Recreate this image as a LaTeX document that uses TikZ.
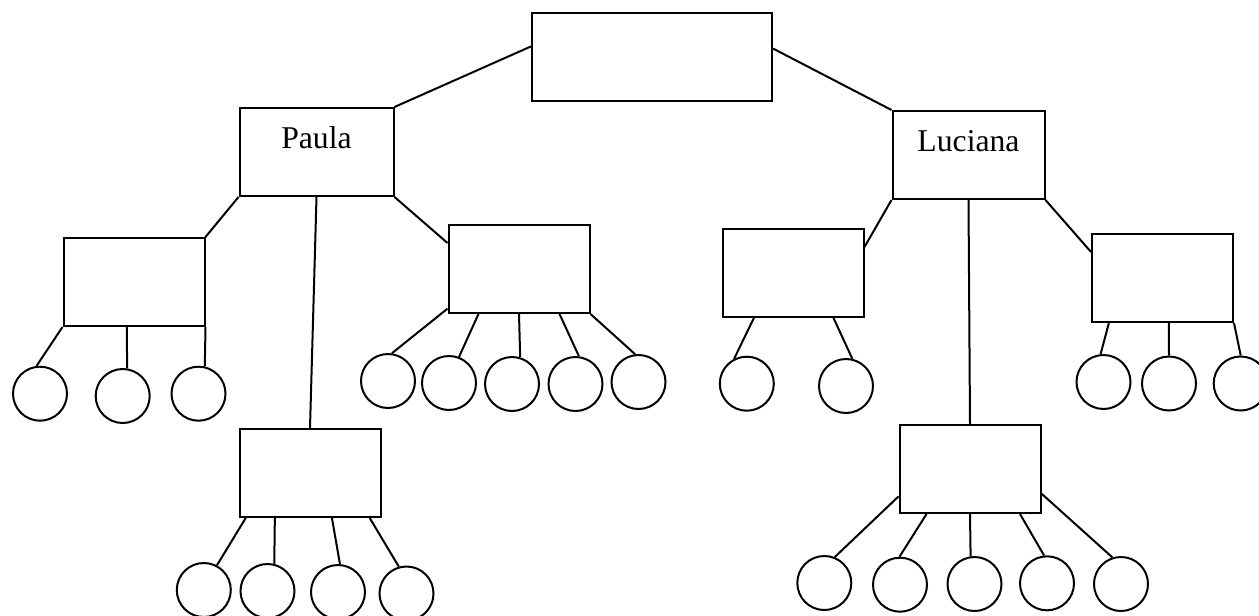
\documentclass[tikz,border=0pt]{standalone}
\usepackage{fontspec}
\setmainfont{Liberation Serif}
\usepackage{tikz}
\tikzset{box/.style={draw, rectangle, minimum width=141pt, minimum height=88pt, inner sep=0pt},
  leaf/.style={draw, circle, minimum size=54pt, inner sep=0pt}}

\begin{document}
\begin{tikzpicture}[x=1pt, y=-1pt, line width=2pt, font=\fontsize{31.7}{38}\selectfont]
      \useasboundingbox (0,0) rectangle (1259,616);
      \node[box, minimum width=240pt] (R) at (652,57) {};
      \node[box, minimum width=154pt, label={[yshift=14pt]center:Paula}] (P) at (316.5,152) {};
      \node[box, minimum width=152pt, label={[yshift=14pt]center:Luciana}] (L) at (968.5,155) {};
      \node[box] (PL) at (134,282) {};
      \node[box] (PM) at (310,473) {};
      \node[box] (PR) at (519,269) {};
      \node[box] (LL) at (793,273) {};
      \node[box] (LM) at (970,469) {};
      \node[box] (LR) at (1162.5,278) {};

      \node[leaf] (PL1) at (40,393.7) {};
      \node[leaf] (PL2) at (122.7,396) {};
      \node[leaf] (PL3) at (198.5,393.7) {};
      \node[leaf] (PR1) at (388,381) {};
      \node[leaf] (PR2) at (449,383) {};
      \node[leaf] (PR3) at (512,384) {};
      \node[leaf] (PR4) at (575.5,384) {};
      \node[leaf] (PR5) at (638.5,382) {};
      \node[leaf] (PM1) at (203.8,590) {};
      \node[leaf] (PM2) at (267.5,591) {};
      \node[leaf] (PM3) at (338,592) {};
      \node[leaf] (PM4) at (406.5,593.5) {};
      \node[leaf] (LL1) at (746.8,383.7) {};
      \node[leaf] (LL2) at (846,386) {};
      \node[leaf] (LR1) at (1103.5,382) {};
      \node[leaf] (LR2) at (1169,383.5) {};
      \node[leaf] (LR3) at (1240.7,383.5) {};
      \node[leaf] (LM1) at (824.3,583) {};
      \node[leaf] (LM2) at (900,584.7) {};
      \node[leaf] (LM3) at (974.5,584) {};
      \node[leaf] (LM4) at (1047,583.3) {};
      \node[leaf] (LM5) at (1121,584) {};

      \draw (R.175) -- (P.north east);
      \draw (R.4) -- (L.north west);
      \draw (P.south west) -- (PL.north east);
      \draw (P.south) -- (PM.north);
      \draw (P.south east) -- (PR.160);
      \draw (L.south west) -- (LL.20);
      \draw (L.south) -- (LM.north);
      \draw (L.south east) -- (LR.160);

      \draw (PL.south west) -- (PL1.97);
      \draw (PL.261) -- (PL2.81);
      \draw (PL.south east) -- (PL3.77);
      \draw (PR.209) -- (PR1.82);
      \draw (PR.228) -- (PR2.69);
      \draw (PR.south) -- (PR3.73);
      \draw (PR.312) -- (PR4.83);
      \draw (PR.south east) -- (PR5.97);
      \draw (PM.215) -- (PM1.62);
      \draw (PM.232) -- (PM2.76);
      \draw (PM.296) -- (PM3.86);
      \draw (PM.323) -- (PM4.106);
      \draw (LL.229) -- (LL1.117);
      \draw (LL.312) -- (LL2.77);
      \draw (LR.220) -- (LR1.96);
      \draw (LR.278) -- (LR2.north);
      \draw (LR.south east) -- (LR3.north);
      \draw (LM.201) -- (LM1.68);
      \draw (LM.226) -- (LM2.91);
      \draw (LM.south) -- (LM3.98);
      \draw (LM.318) -- (LM4.96);
      \draw (LM.341) -- (LM5.108);
    \end{tikzpicture}
\end{document}
